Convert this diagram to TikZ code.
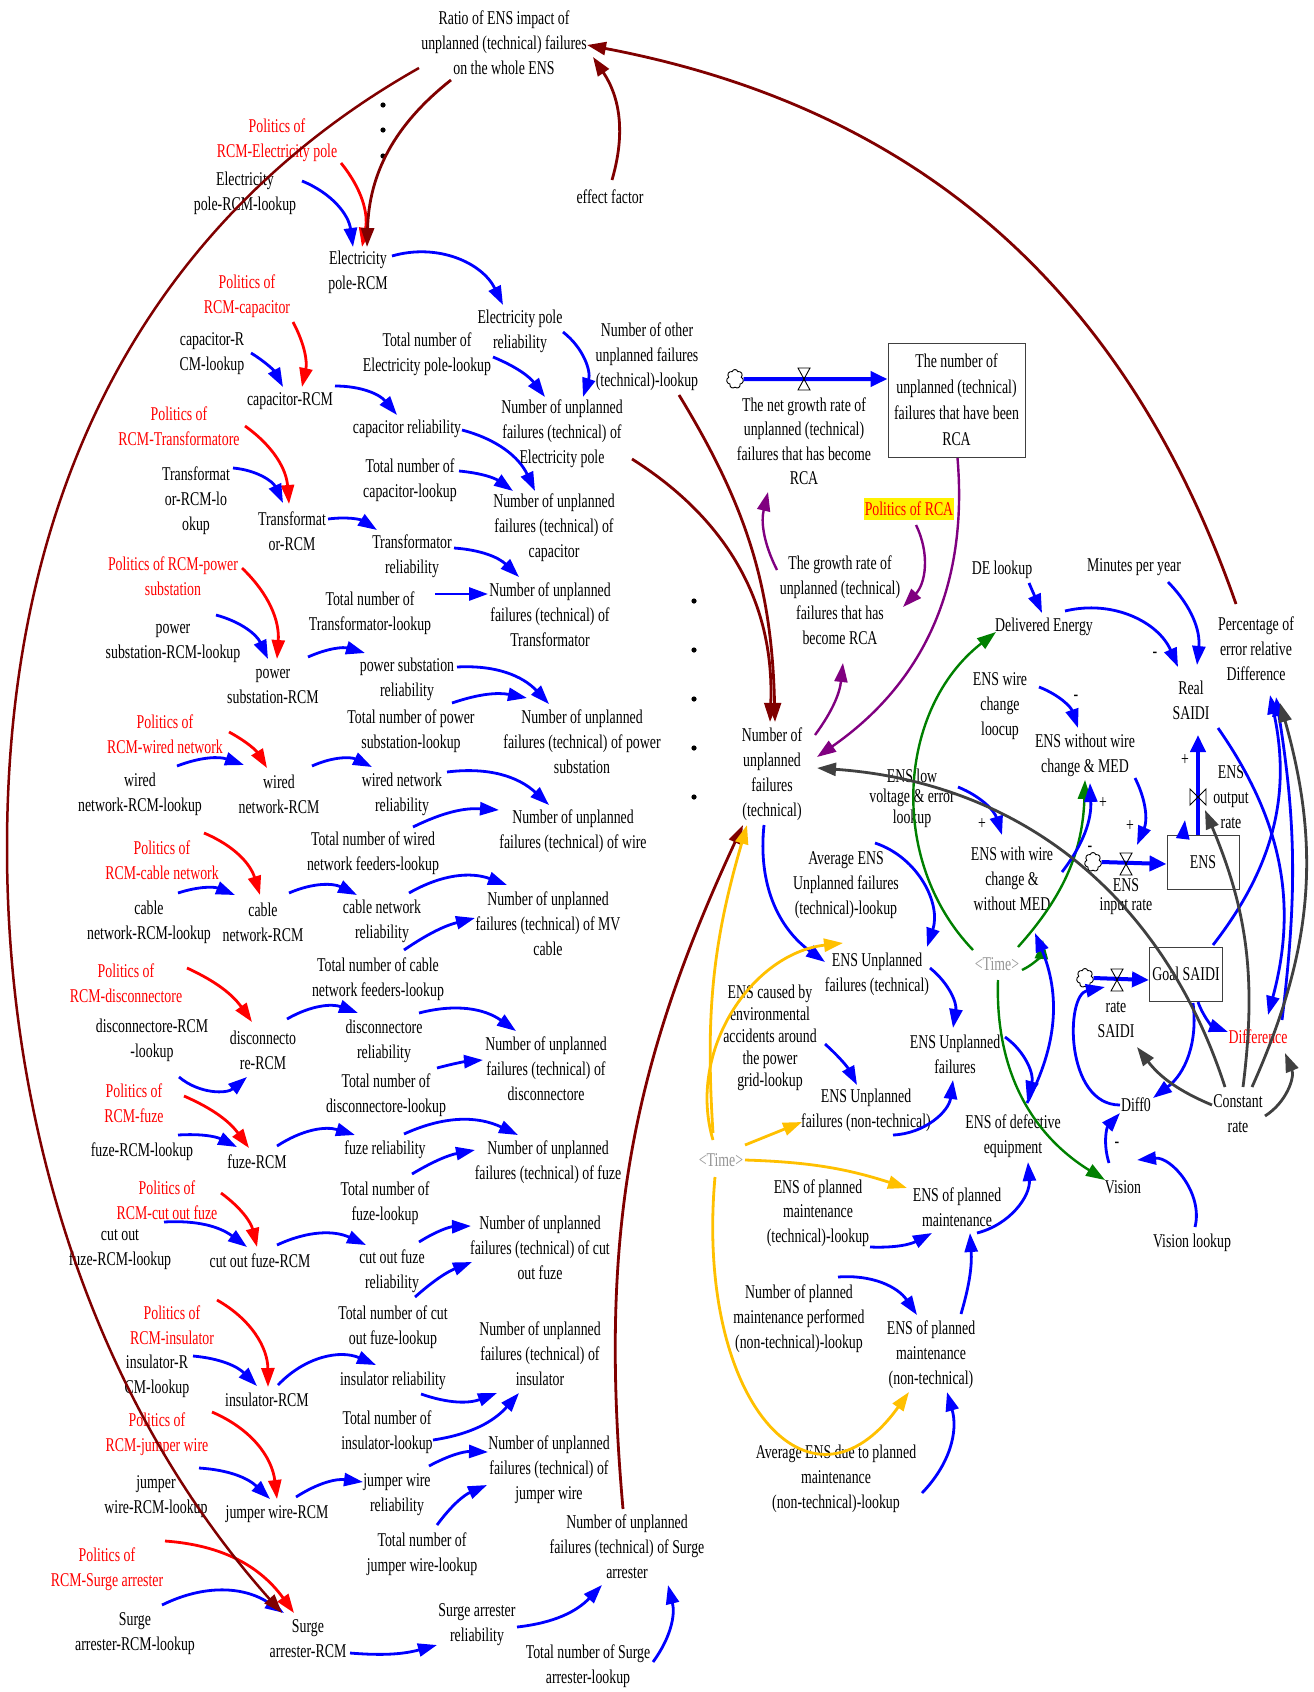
\documentclass[tikz,border=0pt]{standalone}
\usepackage{fontspec}
\setmainfont{Liberation Serif}[FakeStretch=0.71]
\usetikzlibrary{arrows.meta,calc,shapes.symbols}
\definecolor{vblue}{RGB}{0,0,255}
\definecolor{vred}{RGB}{255,0,0}
\definecolor{vdred}{RGB}{128,0,0}
\definecolor{vpurple}{RGB}{128,0,128}
\definecolor{vgreen}{RGB}{0,128,0}
\definecolor{vgray}{RGB}{64,64,64}
\definecolor{vorange}{RGB}{255,192,0}
\definecolor{vtime}{RGB}{150,150,150}
\newcommand\lbfont{\fontsize{19.5}{25}\selectfont}
\tikzset{
  lb/.style={align=center, inner sep=0pt, font=\lbfont, text=black},
  rd/.style={lb, text=vred},
  tm/.style={lb, text=vtime},
  arr/.style={line width=2.8pt, -{Triangle[length=19pt,width=13pt]}},
  ab/.style={arr, draw=vblue},
  ar/.style={arr, draw=vred},
  adr/.style={arr, draw=vdred},
  ap/.style={arr, draw=vpurple, line width=2.4pt},
  ag/.style={arr, draw=vgreen, line width=2.4pt},
  ak/.style={arr, draw=vgray},
  ao/.style={arr, draw=vorange},
  flow/.style={draw=vblue, line width=4pt, -{Triangle[length=17pt,width=15pt]}},
  stock/.style={lb, draw=black!75, line width=1pt},
  cloudn/.style={cloud, cloud puffs=7, draw=black, line width=0.9pt, fill=white,
    minimum width=17pt, minimum height=19pt, inner sep=0pt},
  valvest/.style={draw=black, line width=0.9pt},
}
\begin{document}
\begin{tikzpicture}[x=1pt,y=1pt]
\fill[white] (0,0) rectangle (1314,-1692);
\path[use as bounding box] (0,0) rectangle (1314,-1692);

% ---------- top ----------
\node[lb] (ratio) at (504,-43) {Ratio of ENS impact of\\unplanned (technical) failures\\on the whole ENS};
\node[lb] (eff) at (610,-197) {effect factor};
\foreach \yy in {105,130,156} \fill (383,-\yy) circle (2.6);
\foreach \yy in {601,650,699,748,797} \fill (694,-\yy) circle (2.6);

% ---------- RCM column ----------
\node[rd] (polEP) at (277,-140) {Politics of\\RCM-Electricity pole};
\node[lb] (lkEP) at (245,-193) {Electricity\\pole-RCM-lookup};
\node[lb] (rcmEP) at (358,-272) {Electricity\\pole-RCM};
\node[rd] (polCap) at (247,-296) {Politics of\\RCM-capacitor};
\node[lb] (lkCap) at (212,-354) {capacitor-R\\CM-lookup};
\node[lb] (rcmCap) at (290,-401) {capacitor-RCM};
\node[rd] (polTr) at (179,-426) {Politics of\\RCM-Transformatore};
\node[lb] (lkTr) at (196,-501) {Transformat\\or-RCM-lo\\okup};
\node[lb] (rcmTr) at (292,-531) {Transformat\\or-RCM};
\node[rd] (polPS) at (173,-576) {Politics of RCM-power\\substation};
\node[lb] (lkPS) at (173,-643) {power\\substation-RCM-lookup};
\node[lb] (rcmPS) at (273,-686) {power\\substation-RCM};
\node[rd] (polWN) at (165,-734) {Politics of\\RCM-wired network};
\node[lb] (lkWN) at (140,-794) {wired\\network-RCM-lookup};
\node[lb] (rcmWN) at (279,-794) {wired\\network-RCM};
\node[rd] (polCN) at (162,-860) {Politics of\\RCM-cable network};
\node[lb] (lkCN) at (149,-922) {cable\\network-RCM-lookup};
\node[lb] (rcmCN) at (263,-922) {cable\\network-RCM};
\node[rd] (polDi) at (126,-983) {Politics of\\RCM-disconnectore};
\node[lb] (lkDi) at (152,-1040) {disconnectore-RCM\\-lookup};
\node[lb] (rcmDi) at (263,-1050) {disconnecto\\re-RCM};
\node[rd] (polFu) at (134,-1103) {Politics of\\RCM-fuze};
\node[lb] (lkFu) at (142,-1152) {fuze-RCM-lookup};
\node[lb] (rcmFu) at (257,-1162) {fuze-RCM};
\node[rd] (polCo) at (167,-1200) {Politics of\\RCM-cut out fuze};
\node[lb] (lkCo) at (120,-1250) {cut out\\fuze-RCM-lookup};
\node[lb] (rcmCo) at (260,-1261) {cut out fuze-RCM};
\node[rd] (polIn) at (172,-1325) {Politics of\\RCM-insulator};
\node[lb] (lkIn) at (157,-1376) {insulator-R\\CM-lookup};
\node[lb] (rcmIn) at (267,-1400) {insulator-RCM};
\node[rd] (polJu) at (157,-1434) {Politics of\\RCM-jumper wire};
\node[lb] (lkJu) at (156,-1497) {jumper\\wire-RCM-lookup};
\node[lb] (rcmJu) at (277,-1514) {jumper wire-RCM};
\node[rd] (polSu) at (107,-1569) {Politics of\\RCM-Surge arrester};
\node[lb] (lkSu) at (135,-1634) {Surge\\arrester-RCM-lookup};
\node[lb] (rcmSu) at (308,-1639) {Surge\\arrester-RCM};

% ---------- reliability / totals ----------
\node[lb] (relEP) at (520,-331) {Electricity pole\\reliability};
\node[lb] (totEP) at (427,-354) {Total number of\\Electricity pole-lookup};
\node[lb] (othL) at (647,-357) {Number of other\\unplanned failures\\(technical)-lookup};
\node[lb] (relCap) at (407,-429) {capacitor reliability};
\node[lb] (totCap) at (410,-480) {Total number of\\capacitor-lookup};
\node[lb] (relTr) at (412,-556) {Transformator\\reliability};
\node[lb] (totTr) at (370,-613) {Total number of\\Transformator-lookup};
\node[lb] (relPS) at (407,-679) {power substation\\reliability};
\node[lb] (totPS) at (411,-731) {Total number of power\\substation-lookup};
\node[lb] (relWN) at (402,-794) {wired network\\reliability};
\node[lb] (totWN) at (373,-853) {Total number of wired\\network feeders-lookup};
\node[lb] (relCN) at (382,-921) {cable network\\reliability};
\node[lb] (totCN) at (378,-979) {Total number of cable\\network feeders-lookup};
\node[lb] (relDi) at (384,-1041) {disconnectore\\reliability};
\node[lb] (totDi) at (386,-1095) {Total number of\\disconnectore-lookup};
\node[lb] (relFu) at (385,-1150) {fuze reliability};
\node[lb] (totFu) at (385,-1203) {Total number of\\fuze-lookup};
\node[lb] (relCo) at (392,-1271) {cut out fuze\\reliability};
\node[lb] (totCo) at (393,-1327) {Total number of cut\\out fuze-lookup};
\node[lb] (relIn) at (393,-1381) {insulator reliability};
\node[lb] (totIn) at (387,-1432) {Total number of\\insulator-lookup};
\node[lb] (relJu) at (397,-1495) {jumper wire\\reliability};
\node[lb] (totJu) at (422,-1554) {Total number of\\jumper wire-lookup};
\node[lb] (relSu) at (477,-1625) {Surge arrester\\reliability};
\node[lb] (totSu) at (588,-1666) {Total number of Surge\\arrester-lookup};

% ---------- numbers of unplanned failures ----------
\node[lb] (nuEP) at (562,-434) {Number of unplanned\\failures (technical) of\\Electricity pole};
\node[lb] (nuCap) at (554,-528) {Number of unplanned\\failures (technical) of\\capacitor};
\node[lb] (nuTr) at (550,-615) {Number of unplanned\\failures (technical) of\\Transformator};
\node[lb] (nuPS) at (582,-742) {Number of unplanned\\failures (technical) of power\\substation};
\node[lb] (nuWi) at (573,-831) {Number of unplanned\\failures (technical) of wire};
\node[lb] (nuMV) at (548,-924) {Number of unplanned\\failures (technical) of MV\\cable};
\node[lb] (nuDi) at (546,-1069) {Number of unplanned\\failures (technical) of\\disconnectore};
\node[lb] (nuFu) at (548,-1162) {Number of unplanned\\failures (technical) of fuze};
\node[lb] (nuCo) at (540,-1248) {Number of unplanned\\failures (technical) of cut\\out fuze};
\node[lb] (nuIn) at (540,-1354) {Number of unplanned\\failures (technical) of\\insulator};
\node[lb] (nuJu) at (549,-1470) {Number of unplanned\\failures (technical) of\\jumper wire};
\node[lb] (nuSu) at (627,-1547) {Number of unplanned\\failures (technical) of Surge\\arrester};

% ---------- RCA part ----------
\node[lb] (nuf) at (772,-774) {Number of\\unplanned\\failures\\(technical)};
\node[cloudn] (cl1) at (735,-379) {};
\coordinate (v1) at (804,-379);
\node[stock, minimum width=137pt, minimum height=114pt, font=\fontsize{19.5}{26}\selectfont] (rcaBox) at (956.5,-400)
  {The number of\\unplanned (technical)\\failures that have been\\RCA};
\node[lb, font=\fontsize{19.5}{24.5}\selectfont] (flowlbl) at (804,-441) {The net growth rate of\\unplanned (technical)\\failures that has become\\RCA};
\node[rd, fill=yellow, inner xsep=1pt, inner ysep=4pt] (polRCA) at (909,-509) {Politics of RCA};
\node[lb] (grow) at (840,-600) {The growth rate of\\unplanned (technical)\\failures that has\\become RCA};

% ---------- SAIDI part ----------
\node[lb] (deL) at (1002,-570) {DE lookup};
\node[lb] (mpy) at (1134,-567) {Minutes per year};
\node[lb] (de) at (1044,-627) {Delivered Energy};
\node[lb] (pct) at (1256,-649) {Percentage of\\error relative\\Difference};
\node[lb] (rs) at (1191,-700) {Real\\SAIDI};
\node[lb] (wcl) at (1000,-706) {ENS wire\\change\\loocup};
\node[lb] (ewo) at (1085,-755) {ENS without wire\\change \& MED};
\node[lb] (eor) at (1231,-797) {ENS\\output\\rate};
\node[lb, font=\fontsize{19.5}{20.5}\selectfont] (lvl) at (912,-798) {ENS low\\voltage \& error\\lookup};
\node[lb] (eww) at (1012,-879) {ENS with wire\\change \&\\without MED};
\node[lb, font=\fontsize{19.5}{19}\selectfont] (eir) at (1126,-897) {ENS\\input rate};
\node[stock, minimum width=72pt, minimum height=54pt] (ensBox) at (1203,-862) {ENS};
\node[cloudn] (cl2) at (1093,-862) {};
\coordinate (v2) at (1126,-864);
\coordinate (v4) at (1198,-797);
\node[stock, minimum width=73pt, minimum height=54pt] (goalBox) at (1186,-974) {Goal SAIDI};
\node[cloudn] (cl3) at (1085,-978) {};
\coordinate (v3) at (1117,-980);
\node[lb] (rsa) at (1116,-1020) {rate\\SAIDI};
\node[rd] (dif) at (1258,-1037) {Difference};
\node[lb] (d0) at (1136,-1105) {Diff0};
\node[lb] (cr) at (1238,-1114) {Constant\\rate};
\node[lb] (vis) at (1123,-1187) {Vision};
\node[lb] (visL) at (1192,-1243) {Vision lookup};
\node[tm] (timeR) at (997,-964) {<Time>};

% ---------- ENS part ----------
\node[lb] (avg) at (846,-885) {Average ENS\\Unplanned failures\\(technical)-lookup};
\node[lb] (eut) at (877,-974) {ENS Unplanned\\failures (technical)};
\node[lb] (eu) at (955,-1054) {ENS Unplanned\\failures};
\node[lb] (edef) at (1013,-1136) {ENS of defective\\equipment};
\node[lb, font=\fontsize{19.5}{22}\selectfont] (env) at (770,-1038) {ENS caused by\\environmental\\accidents around\\the power\\grid-lookup};
\node[lb] (eun) at (866,-1110) {ENS Unplanned\\failures (non-technical)};
\node[tm] (timeL) at (721,-1160) {<Time>};
\node[lb] (epm) at (957,-1207) {ENS of planned\\maintenance};
\node[lb, font=\fontsize{19.5}{24.5}\selectfont] (epmL) at (818,-1213) {ENS of planned\\maintenance\\(technical)-lookup};
\node[lb] (npmL) at (799,-1319) {Number of planned\\maintenance performed\\(non-technical)-lookup};
\node[lb] (epmn) at (931,-1355) {ENS of planned\\maintenance\\(non-technical)};
\node[lb] (avgP) at (836,-1479) {Average ENS due to planned\\maintenance\\(non-technical)-lookup};

% polarity signs
\node[lb] (sg1) at (1155,-655) {-};
\node[lb] (sg2) at (1076,-698) {-};
\node[lb] (sg3) at (1185,-760) {+};
\node[lb] (sg4) at (1103,-803) {+};
\node[lb] (sg5) at (1130,-826) {+};
\node[lb] (sg6) at (982,-824) {+};
\node[lb] (sg7) at (1117,-1145) {-};
\node[lb] (sg8) at (1090,-849) {-};

% ---------- connectors: RCM column ----------
\draw[ar] ($(polEP)+(64,-23)$) to[bend left=25] ($(rcmEP)+(4,25)$);
\draw[ab] ($(lkEP)+(57,12)$) to[bend left=30] ($(rcmEP)+(-5,25)$);
\draw[adr] ($(ratio)+(-53,-37)$) to[bend right=25] ($(rcmEP)+(9,25)$);
\draw[ab] ($(rcmEP)+(34,16)$) to[bend left=40] ($(relEP)+(-17,26)$);
\draw[ab] ($(relEP)+(43,-1)$) to[bend left=35] ($(nuEP)+(21,37)$);
\draw[ab] ($(totEP)+(66,-3)$) to[bend left=15] ($(nuEP)+(-17,37)$);
\draw[adr] ($(nuEP)+(70,-25)$) to[bend left=30] ($(nuf)+(-2,52)$);
\draw[adr] ($(othL)+(32,-38)$) to[bend left=15] ($(nuf)+(3,52)$);

\draw[ar] ($(polCap)+(46,-26)$) to[bend left=20] ($(rcmCap)+(12,14)$);
\draw[ab] ($(lkCap)+(39,1)$) to[bend left=15] ($(rcmCap)+(-7,14)$);
\draw[ab] ($(rcmCap)+(45,15)$) to[bend left=25] ($(relCap)+(-10,14)$);
\draw[ab] ($(relCap)+(55,-1)$) to[bend left=25] ($(nuCap)+(-19,37)$);
\draw[ab] ($(totCap)+(49,9)$) to[bend left=15] ($(nuCap)+(-41,37)$);

\draw[ar] ($(polTr)+(66,0)$) to[bend left=25] ($(rcmTr)+(-3,27)$);
\draw[ab] ($(lkTr)+(37,33)$) to[bend left=30] ($(rcmTr)+(-9,28)$);
\draw[ab] ($(rcmTr)+(36,12)$) to[bend left=20] ($(relTr)+(-35,26)$);
\draw[ab] ($(relTr)+(42,8)$) to[bend left=20] ($(nuTr)+(-31,38)$);
\draw[ab] ($(totTr)+(65,19)$) -- ($(nuTr)+(-62,21)$);

\draw[ar] ($(polPS)+(69,8)$) to[bend left=25] ($(rcmPS)+(4,27)$);
\draw[ab] ($(lkPS)+(43,28)$) to[bend left=25] ($(rcmPS)+(-5,27)$);
\draw[ab] ($(rcmPS)+(35,29)$) to[bend left=20] ($(relPS)+(-42,26)$);
\draw[ab] ($(relPS)+(50,12)$) to[bend left=25] ($(nuPS)+(-33,38)$);
\draw[ab] ($(totPS)+(41,28)$) to[bend left=15] ($(nuPS)+(-55,44)$);

\draw[ar] ($(polWN)+(64,2)$) to[bend left=15] ($(rcmWN)+(-12,26)$);
\draw[ab] ($(lkWN)+(37,28)$) to[bend left=20] ($(rcmWN)+(-35,29)$);
\draw[ab] ($(rcmWN)+(33,28)$) to[bend left=25] ($(relWN)+(-30,27)$);
\draw[ab] ($(relWN)+(45,22)$) to[bend left=25] ($(nuWi)+(-24,26)$);
\draw[ab] ($(totWN)+(40,26)$) to[bend left=15] ($(nuWi)+(-74,21)$);

\draw[ar] ($(polCN)+(42,27)$) to[bend left=25] ($(rcmCN)+(-3,27)$);
\draw[ab] ($(lkCN)+(29,29)$) to[bend left=20] ($(rcmCN)+(-28,27)$);
\draw[ab] ($(rcmCN)+(26,29)$) to[bend left=25] ($(relCN)+(-25,26)$);
\draw[ab] ($(relCN)+(27,28)$) to[bend left=25] ($(nuMV)+(-41,39)$);
\draw[ab] ($(totCN)+(26,29)$) to[bend left=10] ($(nuMV)+(-73,6)$);

\draw[ar] ($(polDi)+(61,15)$) to[bend left=15] ($(rcmDi)+(-11,28)$);
\draw[ab] ($(lkDi)+(27,-37)$) to[bend right=40] ($(rcmDi)+(-16,-27)$);
\draw[ab] ($(rcmDi)+(24,31)$) to[bend left=25] ($(relDi)+(-26,28)$);
\draw[ab] ($(relDi)+(35,28)$) to[bend left=25] ($(nuDi)+(-30,38)$);
\draw[ab] ($(totDi)+(51,27)$) to[bend left=5] ($(nuDi)+(-63,9)$);

\draw[ar] ($(polFu)+(50,7)$) to[bend left=15] ($(rcmFu)+(-8,14)$);
\draw[ab] ($(lkFu)+(36,17)$) to[bend left=15] ($(rcmFu)+(-20,15)$);
\draw[ab] ($(rcmFu)+(20,16)$) to[bend left=25] ($(relFu)+(-30,15)$);
\draw[ab] ($(relFu)+(19,16)$) to[bend left=25] ($(nuFu)+(-30,27)$);
\draw[ab] ($(totFu)+(27,29)$) to[bend left=10] ($(nuFu)+(-73,12)$);

\draw[ar] ($(polCo)+(54,7)$) to[bend left=20] ($(rcmCo)+(-3,14)$);
\draw[ab] ($(lkCo)+(44,28)$) to[bend left=20] ($(rcmCo)+(-13,14)$);
\draw[ab] ($(rcmCo)+(17,16)$) to[bend left=25] ($(relCo)+(-26,26)$);
\draw[ab] ($(relCo)+(27,29)$) to[bend left=15] ($(nuCo)+(-69,22)$);
\draw[ab] ($(totCo)+(22,30)$) to[bend left=10] ($(nuCo)+(-68,-14)$);

\draw[ar] ($(polIn)+(45,25)$) to[bend left=30] ($(rcmIn)+(1,13)$);
\draw[ab] ($(lkIn)+(36,20)$) to[bend left=20] ($(rcmIn)+(-10,14)$);
\draw[ab] ($(rcmIn)+(11,15)$) to[bend left=35] ($(relIn)+(-17,16)$);
\draw[ab] ($(relIn)+(28,-13)$) to[bend right=20] ($(nuIn)+(-43,-39)$);
\draw[ab] ($(totIn)+(46,-8)$) to[bend right=20] ($(nuIn)+(-21,-39)$);

\draw[ar] ($(polJu)+(55,22)$) to[bend left=30] ($(rcmJu)+(0,15)$);
\draw[ab] ($(lkJu)+(43,29)$) to[bend left=20] ($(rcmJu)+(-7,15)$);
\draw[ab] ($(rcmJu)+(19,17)$) to[bend left=20] ($(relJu)+(-34,13)$);
\draw[ab] ($(relJu)+(32,29)$) to[bend left=15] ($(nuJu)+(-61,18)$);
\draw[ab] ($(totJu)+(15,29)$) to[bend left=15] ($(nuJu)+(-62,-15)$);

\draw[ar] ($(polSu)+(58,28)$) to[bend left=25] ($(rcmSu)+(-14,26)$);
\draw[ab] ($(lkSu)+(27,29)$) to[bend left=30] ($(rcmSu)+(-24,26)$);
\draw[adr, line width=2.5pt] ($(ratio)+(-85,-25)$) .. controls (180,-203) and (7,-450) .. (7,-848)
   .. controls (7,-1128) and (95,-1403) .. ($(rcmSu)+(-26,26)$);
\draw[ab] ($(rcmSu)+(42,-14)$) to[bend right=10] ($(relSu)+(-40,-20)$);
\draw[ab] ($(relSu)+(40,-2)$) to[bend right=20] ($(nuSu)+(-25,-38)$);
\draw[ab] ($(totSu)+(65,4)$) to[bend right=25] ($(nuSu)+(41,-38)$);
\draw[adr] ($(nuSu)+(-4,38)$) to[bend left=15] ($(nuf)+(-29,-51)$);

% ---------- connectors: right part ----------
\draw[adr] ($(pct)+(-20,45)$) to[bend right=30] ($(ratio)+(83,-2)$);
\draw[adr] ($(eff)+(2,17)$) to[bend right=25] ($(ratio)+(89,-14)$);

\draw[ap] ($(rcaBox)+(1,-58)$) to[bend left=30] ($(nuf)+(45,17)$);
\draw[ap] ($(polRCA)+(7,-16)$) to[bend left=35] ($(grow)+(63,-7)$);
\draw[ap] ($(grow)+(-63,30)$) to[bend left=20] ($(flowlbl)+(-36,-51)$);
\draw[ap] ($(nuf)+(43,39)$) to[bend right=15] ($(grow)+(3,-63)$);

\draw[ag] ($(timeR)+(-24,14)$) to[bend left=48] ($(de)+(-48,-5)$);
\draw[ag] ($(timeR)+(21,17)$) to[bend right=20] ($(ewo)+(0,-25)$);
\draw[ag] ($(timeR)+(25,-6)$) to[bend right=30] ($(eww)+(31,-61)$);
\draw[ag] ($(timeR)+(1,-16)$) to[bend right=30] ($(vis)+(-18,7)$);

\draw[ab] ($(deL)+(27,-13)$) -- ($(de)+(-2,14)$);
\draw[ab] ($(de)+(21,16)$) to[bend left=40] ($(rs)+(-13,33)$);
\draw[ab] ($(mpy)+(34,-15)$) to[bend left=25] ($(rs)+(6,35)$);
\draw[ab] ($(wcl)+(39,19)$) to[bend left=25] ($(ewo)+(-7,27)$);
\draw[ab] ($(lvl)+(46,11)$) to[bend left=25] ($(eww)+(-10,44)$);
\draw[ab] ($(eww)+(50,7)$) to[bend right=20] ($(ewo)+(5,-28)$);
\draw[ab] ($(ewo)+(50,-23)$) to[bend left=25] ($(v2)+(11,19)$);
\draw[ab] ($(ensBox)+(-20,25)$) -- ($(v4)+(-13,-23)$);

\draw[ab] ($(rs)+(27,-28)$) to[bend left=25] ($(dif)+(10,22)$);
\draw[ab] ($(goalBox)+(27,29)$) to[bend right=25] ($(pct)+(14,-46)$);
\draw[ab] ($(dif)+(24,17)$) to[bend right=8] ($(pct)+(20,-48)$);
\draw[ab] ($(goalBox)+(12,-28)$) to[bend right=25] ($(dif)+(-30,5)$);
\draw[ab] ($(goalBox)+(7,-29)$) to[bend left=30] ($(d0)+(17,7)$);
\draw[ab] ($(d0)+(-16,0)$) .. controls (1065,-1105) and (1065,-995) .. ($(v3)+(-12,-7)$);
\draw[ab] ($(vis)+(-14,24)$) to[bend left=30] ($(d0)+(-16,-8)$);
\draw[ab] ($(visL)+(3,16)$) to[bend right=55] ($(vis)+(14,27)$);

\draw[ak] ($(cr)+(14,27)$) to[bend right=20] ($(pct)+(24,-54)$);
\draw[ak] ($(cr)+(5,27)$) to[bend right=15] ($(v4)+(7,-13)$);
\draw[ak] ($(cr)+(27,-2)$) to[bend right=40] ($(dif)+(27,-16)$);
\draw[ak] ($(cr)+(-26,9)$) to[bend left=15] ($(rsa)+(21,-27)$);
\draw[ak] ($(cr)+(-13,27)$) to[bend right=34] ($(nuf)+(45,6)$);

\draw[ab] ($(edef)+(14,33)$) to[bend right=25] ($(eww)+(23,-54)$);
\draw[ab] ($(eu)+(50,17)$) to[bend left=35] ($(edef)+(14,36)$);
\draw[ab] ($(eut)+(53,6)$) to[bend left=30] ($(eu)+(-2,26)$);
\draw[ab] ($(avg)+(29,42)$) to[bend left=45] ($(eut)+(50,27)$);
\draw[ab] ($(eun)+(27,-25)$) to[bend right=40] ($(eu)+(-2,-26)$);
\draw[ab] ($(nuf)+(-8,-51)$) to[bend right=30] ($(eut)+(-52,12)$);
\draw[ab] ($(env)+(55,-6)$) to[bend left=10] ($(eun)+(-9,25)$);

\draw[ao] ($(timeL)+(-8,20)$) to[bend left=50] ($(eut)+(-34,31)$);
\draw[ao] ($(timeL)+(-8,27)$) to[bend left=10] ($(nuf)+(-25,-51)$);
\draw[ao] ($(timeL)+(24,15)$) -- ($(eun)+(-64,-12)$);
\draw[ao] ($(timeL)+(24,0)$) to[bend left=8] ($(epm)+(-50,19)$);
\draw[ao] ($(timeL)+(-6,-17)$) .. controls (695,-1400) and (810,-1530) .. ($(epmn)+(-22,-37)$);

\draw[ab] ($(epmL)+(52,-34)$) to[bend right=15] ($(epm)+(-25,-26)$);
\draw[ab] ($(epm)+(20,-26)$) to[bend right=40] ($(edef)+(15,-26)$);
\draw[ab] ($(epmn)+(30,41)$) to[bend right=10] ($(epm)+(13,-26)$);
\draw[ab] ($(npmL)+(39,42)$) to[bend left=30] ($(epmn)+(-14,40)$);
\draw[ab] ($(avgP)+(86,-14)$) to[bend right=30] ($(epmn)+(16,-37)$);

% ---------- flows and valves ----------
\draw[flow] (cl1.east) -- ($(rcaBox.west)+(0,21)$);
\draw[flow] (cl2.east) -- ($(ensBox.west)+(0,-2)$);
\draw[flow] (cl3.east) -- ($(goalBox.west)+(0,-6)$);
\draw[flow] ($(ensBox.north)+(-5,0)$) -- ($(rs)+(7,-35)$);
\foreach \v in {v1,v2,v3}
  \draw[valvest] ($(\v)+(-6,11)$) -- ($(\v)+(6,11)$) -- ($(\v)+(-6,-11)$) -- ($(\v)+(6,-11)$) -- cycle;
\draw[valvest] ($(v4)+(-8,8)$) -- ($(v4)+(-8,-8)$) -- ($(v4)+(8,8)$) -- ($(v4)+(8,-8)$) -- cycle;
\end{tikzpicture}
\end{document}
